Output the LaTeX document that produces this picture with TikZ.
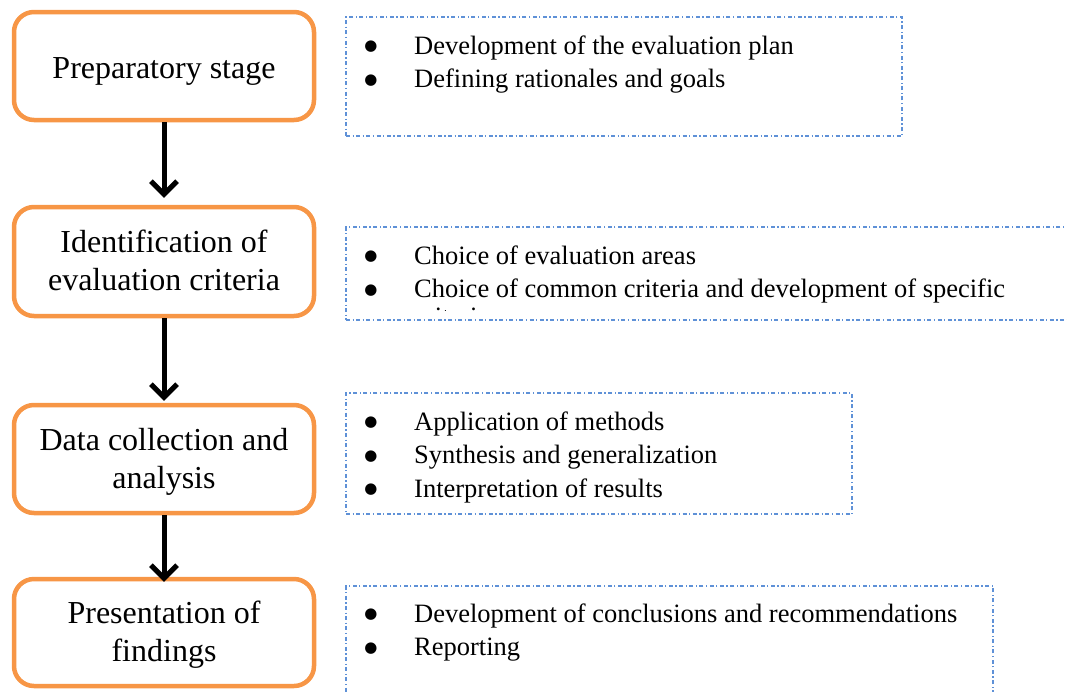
\documentclass[tikz,border=0pt]{standalone}
\usepackage{fontspec}
\setmainfont{Liberation Serif}
\newfontfamily\symfont{DejaVu Sans}
\usetikzlibrary{arrows.meta}
\definecolor{stageorange}{RGB}{247,150,70}
\definecolor{panelblue}{RGB}{95,145,215}
\tikzset{
  stage/.style={draw=stageorange, line width=4.5pt, rounded corners=20pt,
    minimum width=300pt, inner sep=0pt, fill=white},
  panel/.style={draw=panelblue, line width=1.2pt,
    dash pattern=on 4pt off 2.5pt on 1.2pt off 2.5pt, inner sep=0pt},
  flow/.style={line width=5pt, -{Straight Barb[length=13pt,width=26pt]}},
  stagetext/.style={font=\fontsize{32}{38}\selectfont, anchor=base, inner sep=0pt},
  itemtext/.style={font=\fontsize{26.5}{33.5}\selectfont, anchor=base west, inner sep=0pt},
  bullettext/.style={font=\symfont\fontsize{15}{18}\selectfont, anchor=base, inner sep=0pt},
}
\newcommand{\bigbul}{\raisebox{3.2pt}{●}}
\begin{document}
\begin{tikzpicture}[x=1pt,y=-1pt]
\useasboundingbox (0,0) rectangle (1067,691);
\clip (0,0) rectangle (1067,691);
% stage boxes
\node[stage, minimum height=108pt] (s1) at (164,66) {};
\node[stage, minimum height=109pt] (s2) at (164,261.5) {};
\node[stage, minimum height=108pt] (s3) at (164,459) {};
\node[stage, minimum height=107pt] (s4) at (164,632.5) {};
\node[stagetext] (t1) at (164,78) {Preparatory stage};
\node[stagetext] (t2a) at (164,252.5) {Identification of};
\node[stagetext] (t2b) at (164,290.5) {evaluation criteria};
\node[stagetext] (t3a) at (164,450) {Data collection and};
\node[stagetext] (t3b) at (164,488) {analysis};
\node[stagetext] (t4a) at (164,623.5) {Presentation of};
\node[stagetext] (t4b) at (164,661) {findings};
% arrows
\draw[flow, shorten >=7pt] (s1.south) -- (s2.north);
\draw[flow, shorten >=2pt] (s2.south) -- (s3.north);
\draw[flow, shorten >=-5pt] (s3.south) -- (s4.north);
% panels
\node[panel, minimum width=556pt, minimum height=119pt] (pA) at (624,76.5) {};
\node[panel, minimum width=734pt, minimum height=93pt] (pB) at (713,273.5) {};
\node[panel, minimum width=506pt, minimum height=121pt] (pC) at (599,453.5) {};
\node[panel, minimum width=647pt, minimum height=114pt] (pD) at (669.5,643) {};
% panel A
\node[bullettext] (bA1) at (371,54) {\bigbul};
\node[itemtext] (iA1) at (414,54) {Development of the evaluation plan};
\node[bullettext] (bA2) at (371,87.5) {\bigbul};
\node[itemtext] (iA2) at (414,87.5) {Defining rationales and goals};
% panel B
\node[bullettext] (bB1) at (371,264) {\bigbul};
\node[itemtext] (iB1) at (414,264) {Choice of evaluation areas};
\node[bullettext] (bB2) at (371,297.5) {\bigbul};
\node[itemtext] (iB2) at (414,297.5) {Choice of common criteria and development of specific};
\begin{scope}
\clip (346,227) rectangle (1067,310);
\node[itemtext] (iB3) at (414,325) {criteria};
\end{scope}
% panel C
\node[bullettext] (bC1) at (371,430) {\bigbul};
\node[itemtext] (iC1) at (414,430) {Application of methods};
\node[bullettext] (bC2) at (371,463.5) {\bigbul};
\node[itemtext] (iC2) at (414,463.5) {Synthesis and generalization};
\node[bullettext] (bC3) at (371,497) {\bigbul};
\node[itemtext] (iC3) at (414,497) {Interpretation of results};
% panel D
\node[bullettext] (bD1) at (371,622) {\bigbul};
\node[itemtext] (iD1) at (414,622) {Development of conclusions and recommendations};
\node[bullettext] (bD2) at (371,655.5) {\bigbul};
\node[itemtext] (iD2) at (414,655.5) {Reporting};
\end{tikzpicture}
\end{document}
